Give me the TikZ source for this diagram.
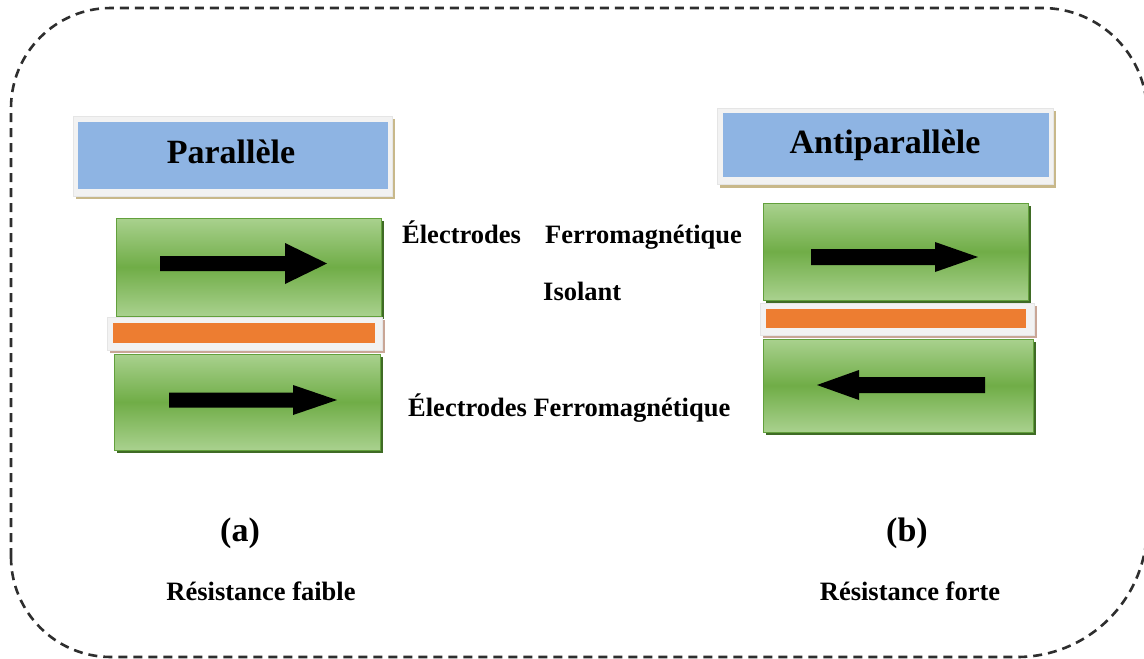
\documentclass[tikz,border=0pt]{standalone}
\usepackage{fontspec}
\setmainfont{Liberation Serif}
\definecolor{hdblue}{HTML}{8EB4E3}
\definecolor{hdshadow}{HTML}{C8B88A}
\definecolor{framegray}{HTML}{F2F2F2}
\definecolor{gLight}{HTML}{A9D18E}
\definecolor{gDark}{HTML}{70AD47}
\definecolor{gEdge}{HTML}{62A03C}
\definecolor{gShadow}{HTML}{3F6B25}
\definecolor{ins}{HTML}{ED7D31}
\definecolor{insShadow}{HTML}{C9A696}
\definecolor{borderline}{HTML}{2E2E2E}

% ferromagnetic layer: dark drop shadow + banded green gradient
\newcommand\greenlayer[4]{%
  \fill[gShadow] (#1+3,#2+3) rectangle (#3+3,#4+3);
  \shadedraw[top color=gLight,bottom color=gLight,middle color=gDark,
    draw=gEdge,line width=0.8pt] (#1,#2) rectangle (#3,#4);}

\begin{document}
\begin{tikzpicture}[x=1pt,y=-1pt,
  lbl/.style={anchor=base,inner sep=0pt,font=\fontsize{26.5}{30}\selectfont\bfseries},
  big/.style={anchor=base,inner sep=0pt,font=\fontsize{34}{40}\selectfont\bfseries},
  frame/.style={fill=framegray,draw=black!10,line width=0.6pt},
  magarrow/.style={fill=black},
  outline/.style={draw=borderline,line width=2.6pt,dash pattern=on 9pt off 6pt}]

\fill[white] (0,0) rectangle (1144,659);
\useasboundingbox (0,0) rectangle (1144,659);
\clip (0,0) rectangle (1144,659);

% dashed rounded enclosure
\draw[outline] (11,557) -- (11,108) arc[start angle=180,end angle=270,radius=100]
  -- (1042,8) arc[start angle=270,end angle=360,radius=105]
  -- (1147,527) arc[start angle=0,end angle=90,radius=130]
  -- (111,657) arc[start angle=90,end angle=180,radius=100] -- cycle;

% ---------- (a) parallel ----------
\fill[hdshadow] (76,119) rectangle (395,199);
\path[frame] (73,116) rectangle (392,196);
\fill[hdblue] (78,122) rectangle (388,189);
\node[big] (titleA) at (231,163) {Parallèle};

\greenlayer{116}{218}{381}{316}
\fill[magarrow] (160,256) -- (285,256) -- (285,243) -- (327,263.5)
  -- (285,284) -- (285,271) -- (160,271) -- cycle;

\fill[insShadow] (110,320) rectangle (385,353);
\path[frame] (107,317) rectangle (382,350);
\fill[ins] (113,323) rectangle (375,343);

\greenlayer{114}{354}{380}{450}
\fill[magarrow] (169,392.5) -- (293,392.5) -- (293,385) -- (337,400)
  -- (293,415) -- (293,407.5) -- (169,407.5) -- cycle;

\node[big] (capA) at (240,541) {(a)};
\node[lbl] (resA) at (261,600) {Résistance faible};

% ---------- (b) antiparallel ----------
\fill[hdshadow] (720,111) rectangle (1056,188);
\path[frame] (717,108) rectangle (1053,184);
\fill[hdblue] (723,113) rectangle (1049,177);
\node[big] (titleB) at (885,153) {Antiparallèle};

\greenlayer{763}{203}{1028}{300}
\fill[magarrow] (811,249) -- (935,249) -- (935,242) -- (978,257)
  -- (935,272) -- (935,265) -- (811,265) -- cycle;

\fill[insShadow] (763,306) rectangle (1037,338);
\path[frame] (760,303) rectangle (1034,335);
\fill[ins] (766,309) rectangle (1026,328);

\greenlayer{763}{339}{1033}{432}
\fill[magarrow] (985,377) -- (859,377) -- (859,370) -- (817,385)
  -- (859,400) -- (859,393) -- (985,393) -- cycle;

\node[big] (capB) at (907,541) {(b)};
\node[lbl] (resB) at (910,600) {Résistance forte};

% ---------- layer names ----------
\node[lbl,anchor=base west] (elecTop) at (402,243) {Électrodes};
\node[lbl,anchor=base west] (ferroTop) at (545,243) {Ferromagnétique};
\node[lbl,anchor=base west] (isol) at (543,300) {Isolant};
\node[lbl,anchor=base west] (elecBot) at (408,416) {Électrodes Ferromagnétique};
\end{tikzpicture}
\end{document}
